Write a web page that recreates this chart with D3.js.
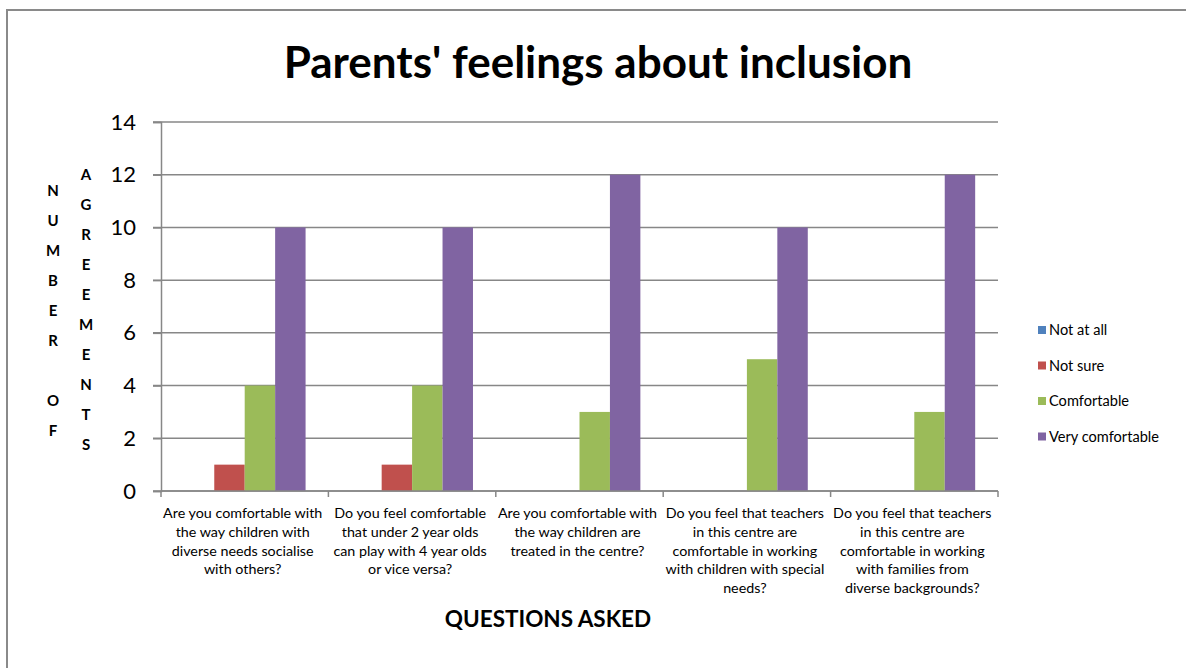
<!DOCTYPE html>
<html>
<head>
<meta charset="utf-8">
<script src="https://cdn.jsdelivr.net/npm/d3@7"></script>
<style>
  body { margin: 0; background: #fff; }
  svg { display: block; font-family: Lato, "Open Sans", sans-serif; }
</style>
</head>
<body>
<div id="chart"></div>
<script>
// Chart data
const questions = [
    ["Are you comfortable with", "the way children with", "diverse needs socialise", "with others?"],
    ["Do you feel comfortable", "that under 2 year olds", "can play with 4 year olds", "or vice versa?"],
    ["Are you comfortable with", "the way children are", "treated in the centre?"],
    ["Do you feel that teachers", "in this centre are", "comfortable in working", "with children with special", "needs?"],
    ["Do you feel that teachers", "in this centre are", "comfortable in working", "with families from", "diverse backgrounds?"]
];
const seriesNames = ["Not at all", "Not sure", "Comfortable", "Very comfortable"];
const notAtAll = [0, 0, 0, 0, 0];
const notSure = [1, 1, 0, 0, 0];
const comfortable = [4, 4, 3, 5, 3];
const veryComfortable = [10, 10, 12, 10, 12];
const yTicks = [0, 2, 4, 6, 8, 10, 12, 14];
const colors = ["#4F81BD", "#C0504D", "#9BBB59", "#8064A2"];

const seriesValues = [notAtAll, notSure, comfortable, veryComfortable];
const catIds = questions.map((q, i) => i);

const width = 1186, height = 668;
const svg = d3.select("#chart").append("svg")
    .attr("width", width)
    .attr("height", height);

svg.append("rect").attr("width", width).attr("height", height).attr("fill", "#fff");

// outer chart border (runs off the right and bottom edges)
svg.append("rect")
    .attr("x", 7).attr("y", 10)
    .attr("width", 1300).attr("height", 800)
    .attr("fill", "none")
    .attr("stroke", "#8a8a8a")
    .attr("stroke-width", 2);

const x = d3.scaleBand().domain(catIds).range([161, 998]);
const xInner = d3.scaleBand().domain(seriesNames)
    .range([0, x.bandwidth()])
    .paddingInner(0).paddingOuter(0.75);
const y = d3.scaleLinear().domain([0, 14]).range([491, 122]);

// gridlines
svg.append("g")
    .selectAll("line")
    .data(yTicks)
    .enter().append("line")
    .attr("x1", 153).attr("x2", 998)
    .attr("y1", d => y(d)).attr("y2", d => y(d))
    .attr("stroke", "#878787")
    .attr("stroke-width", 1.5);

// y axis
const yAxis = svg.append("g")
    .attr("transform", "translate(161,0)")
    .call(d3.axisLeft(y).tickValues(yTicks).tickSize(8).tickPadding(17));
yAxis.select(".domain").attr("stroke", "#878787").attr("stroke-width", 1.5);
yAxis.selectAll(".tick line").attr("stroke", "#878787").attr("stroke-width", 1.5);
yAxis.selectAll(".tick text")
    .attr("font-size", 22)
    .attr("fill", "#000")
    .style("font-family", "Lato, sans-serif");

// bars
const groups = svg.append("g")
    .selectAll("g")
    .data(seriesValues)
    .enter().append("g")
    .attr("fill", (d, i) => colors[i]);

groups.selectAll("rect")
    .data((vals, si) => vals.map((v, ci) => ({ v, ci, s: seriesNames[si] })))
    .enter().append("rect")
    .attr("x", d => x(d.ci) + xInner(d.s))
    .attr("width", xInner.bandwidth())
    .attr("y", d => y(d.v))
    .attr("height", d => y(0) - y(d.v));

// x axis line and ticks at category boundaries
const xAxisG = svg.append("g");
xAxisG.append("line")
    .attr("x1", 161).attr("x2", 998)
    .attr("y1", y(0)).attr("y2", y(0))
    .attr("stroke", "#878787").attr("stroke-width", 1.5);
xAxisG.selectAll(".xt")
    .data(catIds.map(i => x(i)).concat([x(catIds.length - 1) + x.bandwidth()]))
    .enter().append("line")
    .attr("x1", d => d).attr("x2", d => d)
    .attr("y1", y(0)).attr("y2", y(0) + 6)
    .attr("stroke", "#878787").attr("stroke-width", 1.5);

// category labels
const labels = svg.append("g")
    .selectAll("text")
    .data(questions)
    .enter().append("text")
    .attr("text-anchor", "middle")
    .attr("font-size", 14.3)
    .attr("fill", "#000");
labels.each(function (lines, i) {
    d3.select(this).selectAll("tspan")
        .data(lines)
        .enter().append("tspan")
        .attr("x", x(i) + x.bandwidth() / 2 - 2)
        .attr("y", (d, j) => 518 + j * 18.8)
        .text(d => d);
});

// title
svg.append("text")
    .attr("x", 598).attr("y", 78)
    .attr("text-anchor", "middle")
    .attr("font-size", 44)
    .attr("font-weight", "bold")
    .text("Parents' feelings about inclusion");

// x axis title
svg.append("text")
    .attr("x", 548).attr("y", 627)
    .attr("text-anchor", "middle")
    .attr("font-size", 22.5)
    .attr("font-weight", "bold")
    .text("QUESTIONS ASKED");

// y axis title, stacked letters in two columns
const yTitleCols = [
    { text: "NUMBER OF", x: 53, y0: 191 },
    { text: "AGREEMENTS", x: 86, y0: 175 }
];
yTitleCols.forEach(col => {
    svg.append("g").selectAll("text")
        .data(col.text.split(""))
        .enter().append("text")
        .attr("x", col.x)
        .attr("y", (d, j) => col.y0 + j * 30)
        .attr("dy", "0.35em")
        .attr("text-anchor", "middle")
        .attr("font-size", 15)
        .attr("font-weight", "bold")
        .text(d => d);
});

// legend
const legend = svg.append("g")
    .selectAll("g")
    .data(seriesNames)
    .enter().append("g")
    .attr("transform", (d, i) => "translate(1038," + (330 + i * 35.5) + ")");
legend.append("rect")
    .attr("x", 0).attr("y", -4)
    .attr("width", 8).attr("height", 8)
    .attr("fill", (d, i) => colors[i]);
legend.append("text")
    .attr("x", 11)
    .attr("dy", "0.35em")
    .attr("font-size", 14.6)
    .text(d => d);
</script>
</body>
</html>
